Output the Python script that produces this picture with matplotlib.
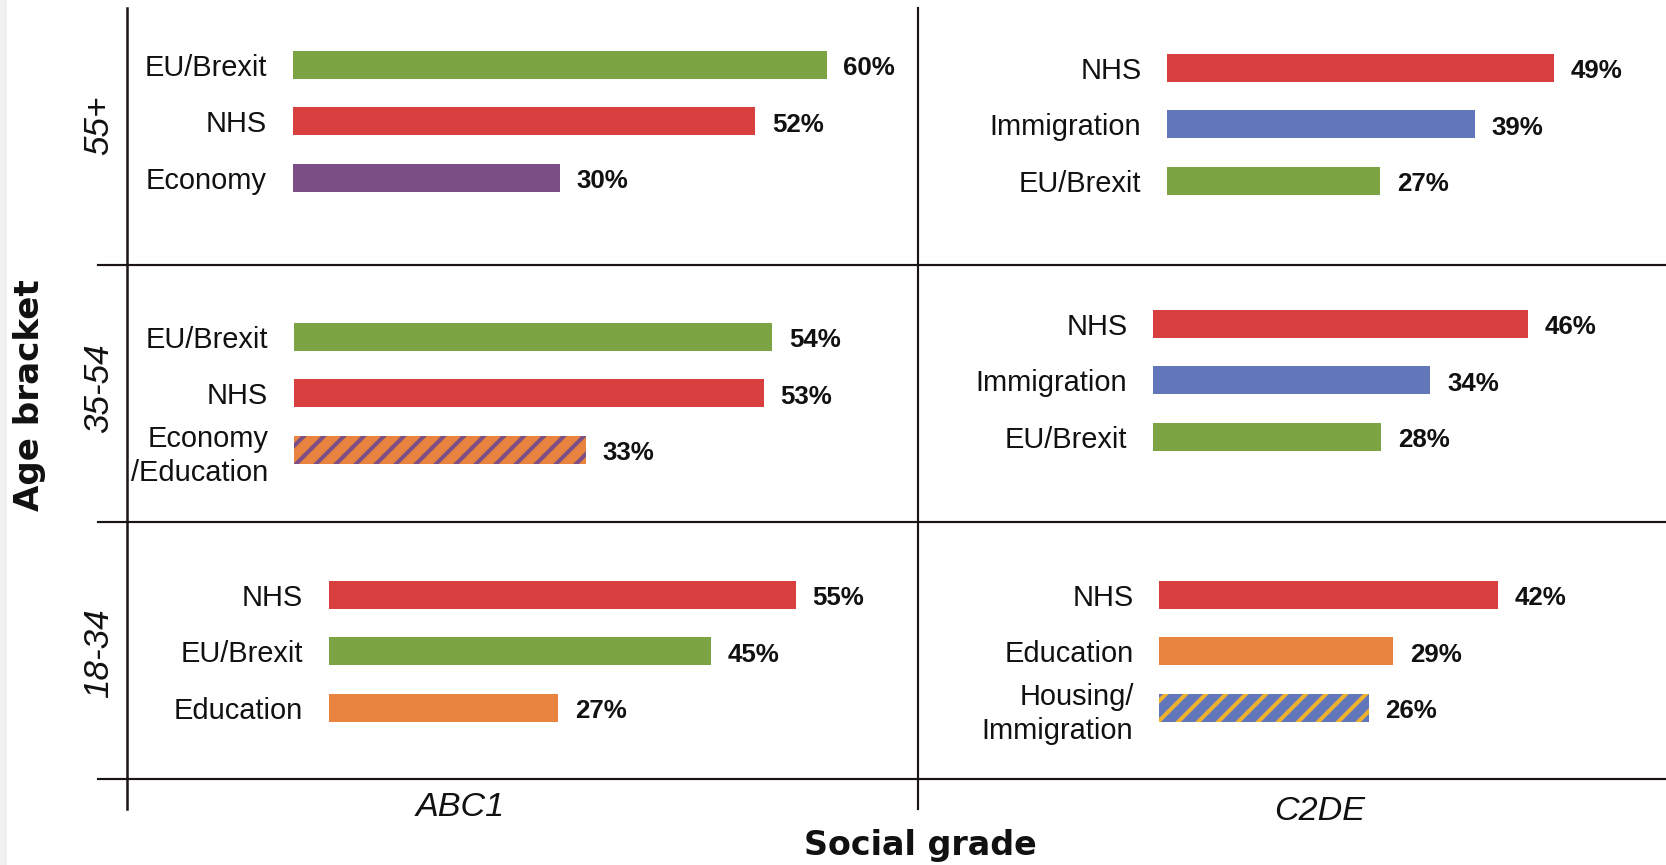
import matplotlib
matplotlib.use("Agg")
import matplotlib.pyplot as plt
from matplotlib.patches import Rectangle
from matplotlib.lines import Line2D

# ---------------- data ----------------
abc1_55_labels = ["EU/Brexit", "NHS", "Economy"]
abc1_55_values = [60, 52, 30]
abc1_35_labels = ["EU/Brexit", "NHS", "Economy\n/Education"]
abc1_35_values = [54, 53, 33]
abc1_18_labels = ["NHS", "EU/Brexit", "Education"]
abc1_18_values = [55, 45, 27]
c2de_55_labels = ["NHS", "Immigration", "EU/Brexit"]
c2de_55_values = [49, 39, 27]
c2de_35_labels = ["NHS", "Immigration", "EU/Brexit"]
c2de_35_values = [46, 34, 28]
c2de_18_labels = ["NHS", "Education", "Housing/\nImmigration"]
c2de_18_values = [42, 29, 26]

age_brackets = ["55+", "35-54", "18-34"]
social_grades = ["ABC1", "C2DE"]

GREEN = "#7ca443"
RED = "#d93f3e"
PURPLE = "#7b4f85"
BLUE = "#6277ba"
ORANGE = "#e8843f"
YELLOW = "#eeb22f"
issue_style = {
    "EU/Brexit": (GREEN, None),
    "NHS": (RED, None),
    "Economy": (PURPLE, None),
    "Immigration": (BLUE, None),
    "Education": (ORANGE, None),
    "Economy\n/Education": (ORANGE, PURPLE),
    "Housing/\nImmigration": (BLUE, YELLOW),
}

# ---------------- figure ----------------
W, H, DPI = 1666, 865, 120
plt.rcParams["hatch.linewidth"] = 2.4
fig = plt.figure(figsize=(W / DPI, H / DPI), dpi=DPI, facecolor="white")

# background axes in pixel coordinates for frame lines and titles
bg = fig.add_axes([0, 0, 1, 1])
bg.set_xlim(0, W)
bg.set_ylim(H, 0)
bg.axis("off")
bg.add_patch(Rectangle((0, 0), 7, H, facecolor="#f1f1f1", edgecolor="none"))

LW = 1.3
for yl in [265, 522, 779]:
    bg.add_line(Line2D([98, W], [yl, yl], color="#1a1414", lw=LW))
bg.add_line(Line2D([127, 127], [8, 809], color="#1a1414", lw=LW + 0.2))
bg.add_line(Line2D([918, 918], [8, 809], color="#1a1414", lw=LW))

narrow = ["Liberation Sans Narrow", "Liberation Sans"]
label_font = ["Liberation Sans", "DejaVu Sans"]

# age bracket labels
for txt, yc in zip(age_brackets, [125, 388, 653]):
    bg.text(99, yc, txt, rotation=90, ha="center", va="center", fontsize=21,
            style="italic", family=narrow, color="#111111")
bg.text(30, 395, "Age bracket", rotation=90, ha="center", va="center",
        fontsize=20.5, fontweight="bold", family="DejaVu Sans", color="#111111")

# social grade labels
for txt, xc, yc in zip(social_grades, [460, 1320], [807, 811]):
    bg.text(xc, yc, txt, ha="center", va="center", fontsize=20.5,
            style="italic", family=narrow, color="#111111")
bg.text(920, 846, "Social grade", ha="center", va="center", fontsize=20,
        fontweight="bold", family="DejaVu Sans", color="#111111")

# ---------------- panels ----------------
SP = 56.3   # px between bar centres
panels = [
    (abc1_55_labels, abc1_55_values, 292.5, 8.90, 65.0),
    (abc1_35_labels, abc1_35_values, 293.5, 8.87, 337.0),
    (abc1_18_labels, abc1_18_values, 328.5, 8.50, 595.0),
    (c2de_55_labels, c2de_55_values, 1167.0, 7.90, 68.0),
    (c2de_35_labels, c2de_35_values, 1153.0, 8.16, 324.0),
    (c2de_18_labels, c2de_18_values, 1159.0, 8.07, 595.0),
]

for labels, values, x0, ppp, c0 in panels:
    wpx = 600
    top = c0 - SP / 2
    hpx = 3 * SP
    ax = fig.add_axes([x0 / W, 1 - (top + hpx) / H, wpx / W, hpx / H])
    ax.set_xlim(0, wpx / ppp)
    ax.set_ylim(2.5, -0.5)
    ax.patch.set_alpha(0)
    for s in ax.spines.values():
        s.set_visible(False)
    ax.set_xticks([])
    pos = list(range(len(labels)))
    ax.set_yticks(pos)
    ax.set_yticklabels(labels, fontsize=17.4, family=label_font,
                       color="#111111", linespacing=1.3)
    ax.tick_params(axis="y", length=0, pad=15.3)
    for i, (lab, v) in enumerate(zip(labels, values)):
        base, stripe = issue_style[lab]
        ax.barh(i, v, height=0.5, color=base, edgecolor="none")
        if stripe is not None:
            ax.barh(i, v, height=0.5, fill=False, edgecolor=stripe,
                    linewidth=0, hatch="//")
        ax.annotate(f"{v}%", (v, i), xytext=(10, -2), textcoords="offset points",
                    ha="left", va="center", fontsize=15.5, fontweight="bold",
                    family=label_font, color="#111111", annotation_clip=False)

fig.savefig("out.png", dpi=DPI, facecolor="white")
